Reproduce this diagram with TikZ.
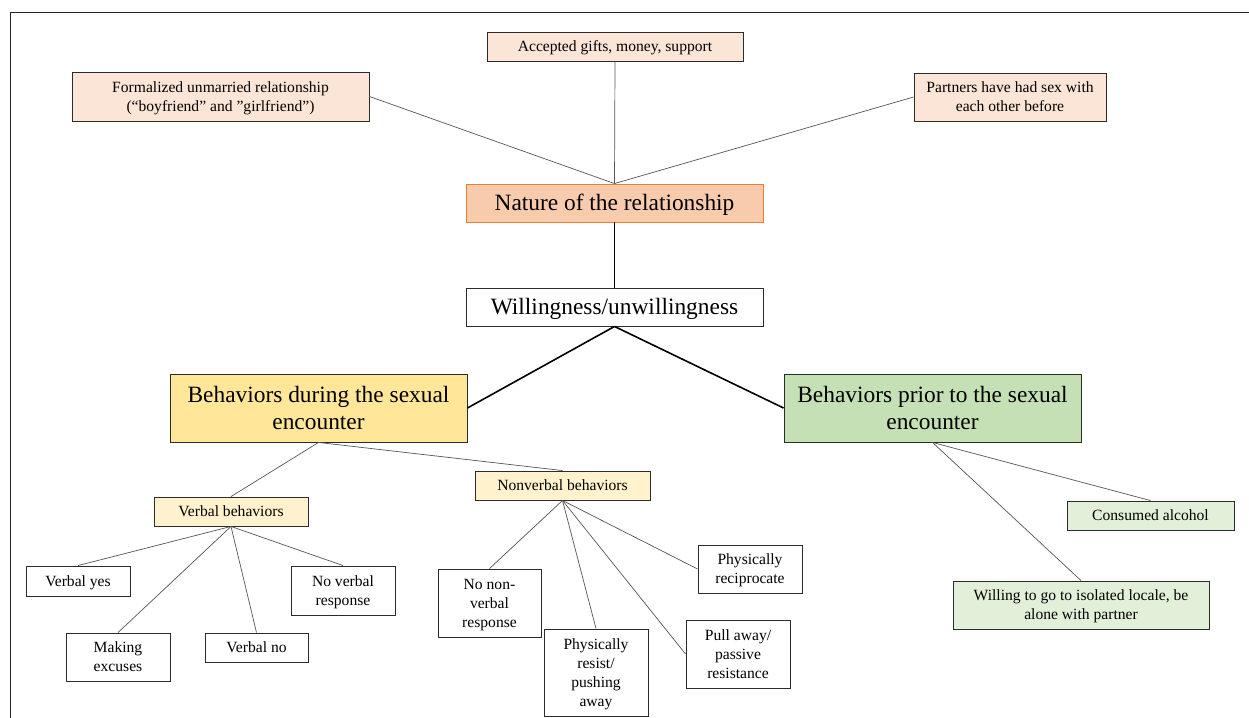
\documentclass[tikz,border=0pt]{standalone}
\usepackage{fontspec}
\setmainfont{Liberation Serif}
\definecolor{peach}{HTML}{FBE5D6}
\definecolor{natfill}{HTML}{F8CBAD}
\definecolor{natdraw}{HTML}{ED7D31}
\definecolor{gold}{HTML}{FFE699}
\definecolor{lgold}{HTML}{FFF2CC}
\definecolor{green}{HTML}{C5E0B4}
\definecolor{lgreen}{HTML}{E2F0D9}
\definecolor{bordc}{HTML}{2B2B2B}
\definecolor{linec}{HTML}{555555}
\newcommand\txtS{\fontsize{15.6}{19}\selectfont}
\newcommand\txtL{\fontsize{23.4}{27}\selectfont}
\begin{document}
\begin{tikzpicture}[x=1pt,y=-1pt,
  box/.style={draw=bordc, line width=0.9pt, inner sep=0pt, align=center, font=\txtS,
    text height=13.9pt, text depth=3.4pt},
  ltwo/.style={text height=32.9pt},
  lthree/.style={text height=51.9pt},
  lfour/.style={text height=70.9pt},
  big/.style={box, font=\txtL, text height=20.85pt, text depth=5.05pt},
  bigtwo/.style={text height=47.85pt},
  wh/.style 2 args={minimum width=#1pt, minimum height=#2pt},
  thinln/.style={draw=linec, line width=0.7pt},
  thickln/.style={draw=black, line width=1.6pt}]
\useasboundingbox (0,0) rectangle (1249,717);
\fill[white] (0,0) rectangle (1249,717);
\draw[line width=1.8pt, black!85] (10.5,720) -- (10.5,12.5) -- (1252,12.5);

\node[box, ltwo, fill=peach, wh={297}{49}] (formal) at (220.5,96.5) {Formalized unmarried relationship\\(“boyfriend” and ”girlfriend”)};
\node[box, fill=peach, wh={256}{29}] (gifts) at (615,46.5) {Accepted gifts, money, support};
\node[box, ltwo, fill=peach, wh={192}{48}] (partners) at (1010,97) {Partners have had sex with\\each other before};
\node[big, fill=natfill, draw=natdraw, wh={297}{38}] (nature) at (614.5,203) {Nature of the relationship};
\node[big, fill=white, wh={297}{38}] (will) at (614.5,307) {Willingness/unwillingness};
\node[big, bigtwo, fill=gold, wh={297}{68}] (during) at (318.5,408) {Behaviors during the sexual\\encounter};
\node[big, bigtwo, fill=green, wh={297}{68}] (prior) at (932.5,408) {Behaviors prior to the sexual\\encounter};
\node[box, fill=lgold, wh={154}{29}] (verbal) at (231,511.5) {Verbal behaviors};
\node[box, fill=lgold, wh={175}{29}] (nonverbal) at (562.5,485.5) {Nonverbal behaviors};
\node[box, fill=white, wh={104}{30}] (vyes) at (78,581) {Verbal yes};
\node[box, ltwo, fill=white, wh={104}{49}] (novr) at (343,590.5) {No verbal\\response};
\node[box, ltwo, fill=white, wh={104}{48}] (excuses) at (118,657) {Making\\excuses};
\node[box, fill=white, wh={103}{29}] (vno) at (256.5,647.5) {Verbal no};
\node[box, lthree, fill=white, wh={103}{68}] (nonv) at (489.5,603) {No non-\\verbal\\response};
\node[box, lfour, fill=white, wh={104}{87}] (resist) at (596,672.5) {Physically\\resist/\\pushing\\away};
\node[box, ltwo, fill=white, wh={104}{48}] (recip) at (750,569) {Physically\\reciprocate};
\node[box, lthree, fill=white, wh={104}{68}] (pull) at (738,654) {Pull away/\\passive\\resistance};
\node[box, fill=lgreen, wh={167}{29}] (alcohol) at (1150.5,515.5) {Consumed alcohol};
\node[box, ltwo, fill=lgreen, wh={256}{48}] (locale) at (1081,605) {Willing to go to isolated locale, be\\alone with partner};

\draw[thinln] (formal.east) -- (nature.north);
\draw[thinln] (gifts.south) -- (nature.north);
\draw[thinln] (partners.west) -- (nature.north);
\draw[thickln] (nature.south) -- (will.north);
\draw[thickln] (will.south) -- (during.east);
\draw[thickln] (will.south) -- (prior.west);
\draw[thinln] (during.south) -- (verbal.north);
\draw[thinln] (during.south) -- (nonverbal.north);
\draw[thinln] (verbal.south) -- (vyes.north);
\draw[thinln] (verbal.south) -- (excuses.north);
\draw[thinln] (verbal.south) -- (vno.north);
\draw[thinln] (verbal.south) -- (novr.north);
\draw[thinln] (nonverbal.south) -- (nonv.north);
\draw[thinln] (nonverbal.south) -- (resist.north);
\draw[thinln] (nonverbal.south) -- (pull.west);
\draw[thinln] (nonverbal.south) -- (recip.west);
\draw[thinln] (prior.south) -- (alcohol.north);
\draw[thinln] (prior.south) -- (locale.north);
\end{tikzpicture}
\end{document}
